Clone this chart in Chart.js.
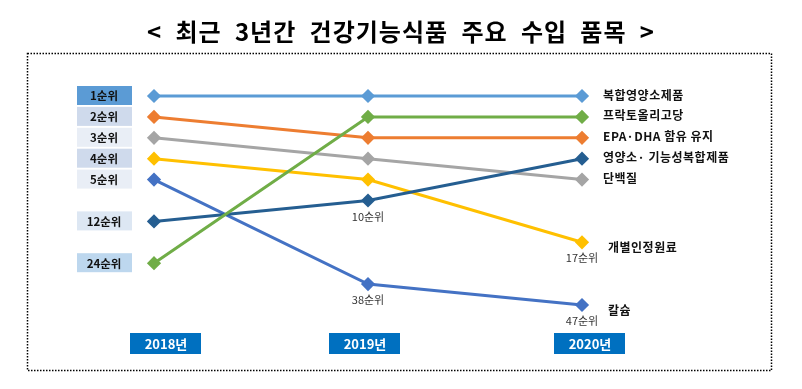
<!DOCTYPE html>
<html>
<head>
<meta charset="utf-8">
<script src="https://cdn.jsdelivr.net/npm/chart.js@4.4.1/dist/chart.umd.min.js"></script>
<style>
  body { margin: 0; background: #fff; }
  canvas { display: block; }
</style>
</head>
<body>
<canvas id="rank-chart" width="802" height="389"></canvas>
<script>
// ====== DATA ======
const chartTitle = '< 최근 3년간 건강기능식품 주요 수입 품목 >';
const years = ['2018년', '2019년', '2020년'];
// rank slots shown on the vertical axis (ordinal, top to bottom)
const rankSlots = ['1', '2', '3', '4', '5', '10', '12', '17', '24', '38', '47'];

const itemNames = ['복합영양소제품', '프락토올리고당', 'EPA·DHA 함유 유지', '영양소· 기능성복합제품', '단백질', '개별인정원료', '칼슘'];
const multiNutrientRanks = ['1', '1', '1'];
const fructoOligoRanks = ['24', '2', '2'];
const epaDhaRanks = ['2', '3', '3'];
const nutrientFunctionalRanks = ['12', '10', '4'];
const proteinRanks = ['3', '4', '5'];
const individualRanks = ['4', '5', '17'];
const calciumRanks = ['5', '38', '47'];
const itemColors = ['#5B9BD5', '#70AD47', '#ED7D31', '#255E91', '#A5A5A5', '#FFC000', '#4472C4'];

const seriesRanks = [multiNutrientRanks, fructoOligoRanks, epaDhaRanks, nutrientFunctionalRanks, proteinRanks, individualRanks, calciumRanks];

// ====== STYLE ======
const FONT = '"Noto Sans CJK KR", "Noto Sans", sans-serif';
const rankBoxFill = { '1': '#5B9BD5', '2': '#CFDAEC', '3': '#E9EEF6', '4': '#CFDAEC', '5': '#E9EEF6', '12': '#DDE7F3', '24': '#BDD7EE' };
const yearBoxShift = [11, -4, 7];

const decorPlugin = {
    id: 'decor',
    beforeDraw(chart) {
        const ctx = chart.ctx;
        ctx.save();
        // dotted frame
        ctx.strokeStyle = '#000';
        ctx.lineWidth = 1.5;
        ctx.setLineDash([1.5, 1.5]);
        ctx.strokeRect(27.5, 53.5, 744, 317);
        ctx.setLineDash([]);

        // title: a little letter spacing, word gaps fill the rest
        ctx.font = 'bold 24px ' + FONT;
        ctx.fillStyle = '#000';
        ctx.textBaseline = 'middle';
        ctx.textAlign = 'left';
        ctx.letterSpacing = '1px';
        const w0 = ctx.measureText(chartTitle).width;
        const gaps = chartTitle.split(' ').length - 1;
        ctx.wordSpacing = Math.max(0, (508 - w0) / gaps) + 'px';
        ctx.fillText(chartTitle, 147, 32);
        ctx.wordSpacing = '0px';
        ctx.letterSpacing = '0px';

        // year boxes
        const xs = chart.scales.x;
        years.forEach((yr, i) => {
            const cx = xs.getPixelForValue(i) + yearBoxShift[i];
            ctx.fillStyle = '#0070C0';
            ctx.fillRect(cx - 35, 333, 71, 21);
            ctx.fillStyle = '#fff';
            ctx.font = 'bold 13px ' + FONT;
            ctx.textAlign = 'center';
            ctx.fillText(yr, cx + 1, 344);
        });
        ctx.restore();
    },
    afterDatasetsDraw(chart) {
        const ctx = chart.ctx;
        const xs = chart.scales.x;
        const ys = chart.scales.y;
        ctx.save();
        ctx.textBaseline = 'middle';

        seriesRanks.forEach((ranks, s) => {
            // left rank box for the first year
            const y0 = ys.getPixelForValue(rankSlots.indexOf(ranks[0]));
            ctx.fillStyle = rankBoxFill[ranks[0]] || '#DDE7F3';
            ctx.fillRect(77, y0 - 10, 55, 19);
            ctx.fillStyle = '#111';
            ctx.font = 'bold 11.5px ' + FONT;
            ctx.textAlign = 'center';
            ctx.fillText(ranks[0] + '순위', 104, y0);

            // rank notes under later points outside the top five
            ranks.forEach((r, i) => {
                if (i === 0 || Number(r) <= 5) return;
                const px = xs.getPixelForValue(i);
                const py = ys.getPixelForValue(rankSlots.indexOf(r));
                ctx.fillStyle = '#333';
                ctx.font = '11px ' + FONT;
                ctx.textAlign = 'center';
                ctx.fillText(r + '순위', px, py + 16);
            });

            // item name at the last year
            const last = ranks[ranks.length - 1];
            const lx = xs.getPixelForValue(ranks.length - 1);
            const ly = ys.getPixelForValue(rankSlots.indexOf(last));
            ctx.fillStyle = '#111';
            ctx.font = 'bold 12px ' + FONT;
            ctx.letterSpacing = '0.5px';
            ctx.textAlign = 'left';
            const far = Number(last) > 5;
            ctx.fillText(itemNames[s], lx + (far ? 26 : 21), ly + (far ? 5 : -1));
            ctx.letterSpacing = '0px';
        });
        ctx.restore();
    }
};

const canvas = document.getElementById('rank-chart');
new Chart(canvas.getContext('2d'), {
    type: 'line',
    data: {
        labels: years,
        datasets: seriesRanks.map((ranks, i) => ({
            label: itemNames[i],
            data: ranks,
            borderColor: itemColors[i],
            backgroundColor: itemColors[i],
            borderWidth: 3,
            pointStyle: 'rectRot',
            pointRadius: 5,
            tension: 0,
            clip: false
        }))
    },
    options: {
        responsive: false,
        animation: false,
        layout: { padding: { left: 154, right: 220, top: 96, bottom: 84 } },
        plugins: {
            legend: { display: false },
            tooltip: { enabled: false }
        },
        scales: {
            x: { display: false, offset: false },
            y: { type: 'category', labels: rankSlots, display: false, offset: false }
        }
    },
    plugins: [decorPlugin]
});
</script>
</body>
</html>
